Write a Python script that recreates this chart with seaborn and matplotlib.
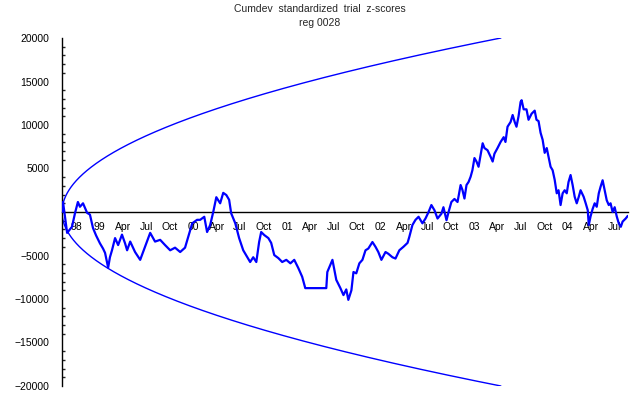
import numpy as np
import pandas as pd
import matplotlib

matplotlib.use("Agg")
import matplotlib.pyplot as plt
import seaborn as sns

sns.set_style("white")
plt.rcParams["font.family"] = ["Liberation Sans", "DejaVu Sans"]

# cumulative deviation (days after start, value)
start_date = "1998-08-07"
walk_days = [
    0, 4, 12, 20, 39, 51, 62, 70, 82, 98, 109, 121, 133, 148, 160, 168, 180, 187,
    195, 207, 219, 234, 246, 254, 266, 285, 305, 324, 344, 363, 383, 402, 422,
    441, 461, 480, 492, 508, 527, 539, 555, 566, 578, 590, 602, 617, 629, 641,
    652, 660, 676, 691, 707, 723, 734, 746, 758, 769, 777, 789, 805, 816, 828,
    844, 859, 875, 891, 906, 922, 937, 949, 1031, 1035, 1055, 1070, 1086, 1098,
    1109, 1117, 1129, 1137, 1148, 1160, 1172, 1184, 1195, 1211, 1223, 1234,
    1246, 1262, 1273, 1289, 1301, 1316, 1332, 1348, 1355, 1367, 1379, 1391,
    1406, 1418, 1430, 1441, 1453, 1465, 1480, 1488, 1500, 1508, 1519, 1531,
    1543, 1555, 1562, 1570, 1578, 1586, 1594, 1601, 1609, 1617, 1625, 1633,
    1641, 1648, 1660, 1672, 1680, 1687, 1699, 1711, 1723, 1730, 1738, 1750,
    1758, 1766, 1773, 1781, 1789, 1793, 1801, 1812, 1820, 1832, 1844, 1851,
    1859, 1867, 1875, 1883, 1891, 1898, 1906, 1914, 1922, 1930, 1937, 1945,
    1953, 1961, 1969, 1976, 1984, 1992, 2000, 2008, 2016, 2023, 2035, 2043,
    2051, 2055, 2062, 2070, 2078, 2086, 2094, 2101, 2109, 2117, 2125, 2133,
    2140, 2148, 2156, 2164, 2172, 2180, 2187, 2199, 2207,
]
walk_values = [
    0, 1150, -600, -2400, -1700, -100, 1150, 600, 1000, -100, -300, -1850,
    -2700, -3600, -4200, -4700, -6400, -5200, -4400, -3000, -3800, -2600,
    -3600, -4400, -3400, -4600, -5500, -4000, -2400, -3400, -3200, -3800,
    -4400, -4100, -4600, -4100, -2900, -1300, -900, -900, -550, -2300, -1500,
    0, 1700, 1000, 2200, 1950, 1400, -150, -1300, -3000, -4400, -5200, -5750,
    -5200, -5750, -3450, -2300, -2650, -3000, -3550, -4950, -5300, -5750,
    -5500, -5900, -5500, -6450, -7450, -8750, -8750, -6900, -5500, -7800,
    -8750, -9550, -8900, -10100, -9000, -6900, -7050, -5900, -5500, -4400,
    -4200, -3450, -4000, -4600, -5500, -4600, -4800, -5200, -5350, -4400,
    -4000, -3550, -2850, -1500, -900, -550, -1300, -750, 0, 800, 200, -750,
    -200, 550, -950, 0, 1150, 1500, 1150, 3100, 2550, 1550, 3100, 3450, 4050,
    4800, 6200, 5800, 5200, 6550, 7900, 7350, 7100, 6350, 5800, 6700, 7350,
    8050, 8600, 8050, 9800, 10350, 11150, 10350, 9800, 11000, 12650, 12850,
    11800, 11800, 10600, 11300, 11650, 10600, 10450, 9100, 8300, 6800, 7350,
    6350, 5200, 4800, 3700, 2150, 2500, 800, 2150, 2500, 2150, 3450, 4250,
    3100, 1750, 1000, 1750, 2500, 1750, 1000, 200, -1500, -500, 350, 1000,
    600, 2150, 2900, 3650, 2500, 1350, 800, 1000, 0, 550, -500, -1300, -1700,
    -1100, -750, -450,
]
end_date = "2004-08-23"

# probability envelope (scales with sqrt of elapsed trials)
envelope_end_date = "2003-04-15"
envelope_end_value = 20000

tick_dates = pd.date_range("1998-10-01", "2004-07-01", freq="QS")
tick_labels = ["98"] + [
    d.strftime("%y") if d.month == 1 else d.strftime("%b") for d in tick_dates[1:]
]
y_ticks = [20000, 15000, 10000, 5000, -5000, -10000, -15000, -20000]

start = pd.Timestamp(start_date)
df = pd.DataFrame(
    {"date": start + pd.to_timedelta(walk_days, unit="D"), "cumdev": walk_values}
)
n_env = (pd.Timestamp(envelope_end_date) - start).days
env_days = np.arange(0, n_env + 1)
env = pd.DataFrame(
    {
        "date": start + pd.to_timedelta(env_days, unit="D"),
        "upper": envelope_end_value * np.sqrt(env_days / n_env),
    }
)
env["lower"] = -env["upper"]

fig = plt.figure(figsize=(6.4, 3.95), dpi=100)
ax = fig.add_axes([62 / 640, 1 - 386 / 395, (628 - 62) / 640, (386 - 38) / 395])

blue = "#0000ff"
sns.lineplot(data=env, x="date", y="upper", ax=ax, color=blue, lw=1.0)
sns.lineplot(data=env, x="date", y="lower", ax=ax, color=blue, lw=1.0)
sns.lineplot(data=df, x="date", y="cumdev", ax=ax, color=blue, lw=1.6, zorder=3)

ax.set_xlim(start, pd.Timestamp(end_date))
ax.set_ylim(-20000, 20000)
ax.spines["top"].set_visible(False)
ax.spines["right"].set_visible(False)
ax.spines["bottom"].set_position(("data", 0))
for s in ["left", "bottom"]:
    ax.spines[s].set_color("black")
    ax.spines[s].set_linewidth(1.0)

ax.set_xticks(tick_dates)
ax.set_xticklabels(tick_labels)
ax.set_yticks(y_ticks)
ax.set_yticklabels([str(v).replace("-", "\u2212") for v in y_ticks])
ax.set_yticks(np.arange(-20000, 20001, 1000), minor=True)
ax.tick_params(axis="x", direction="in", length=3, width=1, pad=7.5,
               labelsize=7.5, colors="black")
ax.tick_params(axis="y", which="major", direction="in", length=4, width=1,
               pad=9, labelsize=7.5, colors="black")
ax.tick_params(axis="y", which="minor", direction="in", length=2.5, width=1,
               left=True)
ax.set_xlabel("")
ax.set_ylabel("")

fig.text(0.5, 1 - 9 / 395, "Cumdev  standardized  trial  z-scores",
         ha="center", va="center", fontsize=7.5)
fig.text(0.5, 1 - 23 / 395, "reg 0028", ha="center", va="center", fontsize=7.5)

fig.savefig("out.png", dpi=100)
